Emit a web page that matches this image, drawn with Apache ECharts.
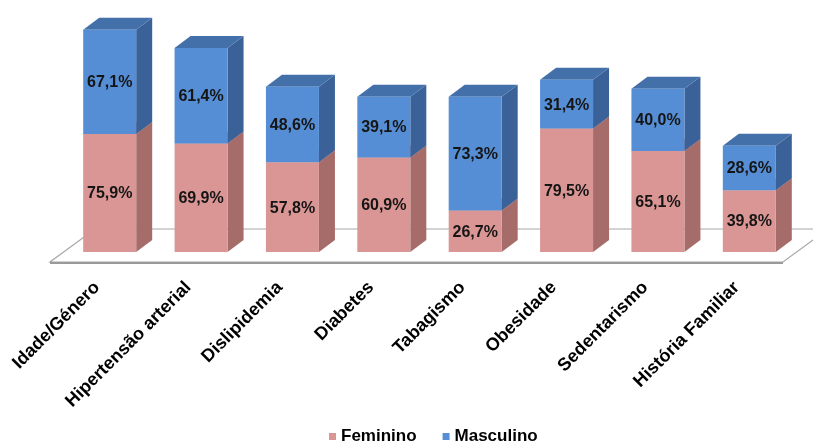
<!DOCTYPE html>
<html>
<head>
<meta charset="utf-8">
<script src="https://cdn.jsdelivr.net/npm/echarts@6/dist/echarts.min.js"></script>
<style>
  html, body { margin: 0; padding: 0; background: #fff; }
  #chart { width: 813px; height: 447px; }
</style>
</head>
<body>
<div id="chart"></div>
<script>
// Risk factors by sex (%), stacked 3D columns
const categories = ['Idade/Género', 'Hipertensão arterial', 'Dislipidemia', 'Diabetes',
                    'Tabagismo', 'Obesidade', 'Sedentarismo', 'História Familiar'];
const feminino  = [75.9, 69.9, 57.8, 60.9, 26.7, 79.5, 65.1, 39.8];
const masculino = [67.1, 61.4, 48.6, 39.1, 73.3, 31.4, 40.0, 28.6];

const FONT = "'Liberation Sans', Arial, sans-serif";
const DEPTH_X = 16, DEPTH_Y = -12;   // extrusion offset of each column
const BAR_RATIO = 0.58;              // front face width / category band

const palette = {
  Feminino:  { front: '#D99694', side: '#A66C6A', top: '#C08280' },
  Masculino: { front: '#558ED5', side: '#3A6298', top: '#4470AA' }
};

// [categoryIndex, start, end, value]
function segments(base, values) {
  return values.map((v, i) => [i, base ? base[i] : 0, (base ? base[i] : 0) + v, v]);
}
const femData = segments(null, feminino);
const mascData = segments(feminino, masculino);

function fmt(v) { return v.toFixed(1).replace('.', ',') + '%'; }

function makeColumn(name) {
  const c = palette[name];
  return function (params, api) {
    const idx = api.value(0);
    const p0 = api.coord([idx, api.value(1)]);
    const p1 = api.coord([idx, api.value(2)]);
    const band = api.size([1, 0])[0];
    const w = band * BAR_RATIO;
    const x0 = p0[0] - w / 2, x1 = p0[0] + w / 2;
    const yb = p0[1], yt = p1[1];
    return {
      type: 'group',
      children: [
        { type: 'polygon', shape: { points: [[x1, yb], [x1 + DEPTH_X, yb + DEPTH_Y], [x1 + DEPTH_X, yt + DEPTH_Y], [x1, yt]] },
          style: { fill: c.side } },
        { type: 'polygon', shape: { points: [[x0, yt], [x1, yt], [x1 + DEPTH_X, yt + DEPTH_Y], [x0 + DEPTH_X, yt + DEPTH_Y]] },
          style: { fill: c.top } },
        { type: 'rect', shape: { x: x0, y: yt, width: w, height: yb - yt },
          style: { fill: c.front } },
        { type: 'text', style: { text: fmt(api.value(3)), x: (x0 + x1) / 2, y: (yb + yt) / 2 + 1,
          align: 'center', verticalAlign: 'middle', font: 'bold 16px ' + FONT, fill: '#151515' } }
      ]
    };
  };
}

// Floor plane under the columns
function renderFloor(params, api) {
  const first = api.coord([0, 0]);
  const last = api.coord([categories.length - 1, 0]);
  const band = api.size([1, 0])[0];
  const left = first[0] - band / 2, right = last[0] + band / 2, y0 = first[1];
  const fl = [left - 14, y0 + 10], fr = [right - 12, y0 + 10];
  const br = [right + 33, y0 - 23], bl = [left + 31, y0 - 23];
  return {
    type: 'group',
    children: [
      { type: 'polygon', shape: { points: [fl, fr, br, bl] },
        style: { fill: '#ffffff', stroke: '#a8a8a8', lineWidth: 1.2 } },
      { type: 'line', shape: { x1: fl[0], y1: fl[1] + 1, x2: fr[0], y2: fr[1] + 1 },
        style: { stroke: '#9a9a9a', lineWidth: 2 } }
    ]
  };
}

const chart = echarts.init(document.getElementById('chart'), null, { renderer: 'canvas' });
chart.setOption({
  animation: false,
  backgroundColor: '#ffffff',
  grid: { left: 64, right: 18, top: 19, bottom: 195 },
  xAxis: {
    type: 'category',
    data: categories,
    axisLine: { show: false },
    axisTick: { show: false },
    axisLabel: {
      interval: 0, rotate: 45, margin: 20,
      fontFamily: FONT, fontSize: 18, fontWeight: 'bold', color: '#000',
      padding: [0, 18, 0, 0]
    }
  },
  yAxis: { type: 'value', min: 0, max: 150, show: false },
  legend: {
    data: ['Feminino', 'Masculino'],
    top: 424, left: 325, padding: 4,
    icon: 'rect', itemWidth: 7, itemHeight: 7, itemGap: 26,
    textStyle: { fontFamily: FONT, fontSize: 17, fontWeight: 'bold', color: '#000' }
  },
  series: [
    { name: 'floor', type: 'custom', renderItem: renderFloor, data: [[0]], clip: false, silent: true, z: 1 },
    { name: 'Feminino', type: 'custom', renderItem: makeColumn('Feminino'), data: femData,
      clip: false, itemStyle: { color: palette.Feminino.front }, z: 2 },
    { name: 'Masculino', type: 'custom', renderItem: makeColumn('Masculino'), data: mascData,
      clip: false, itemStyle: { color: palette.Masculino.front }, z: 3 }
  ]
});
</script>
</body>
</html>
